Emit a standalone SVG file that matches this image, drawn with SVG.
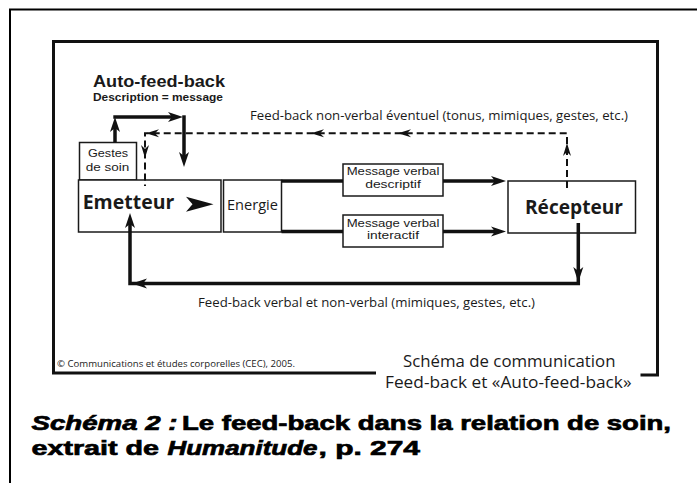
<svg xmlns="http://www.w3.org/2000/svg" xmlns:xlink="http://www.w3.org/1999/xlink" width="697" height="483" viewBox="0 0 697 483">
<style>
.f{font-family:"Open Sans","Liberation Sans",sans-serif;fill:#1a1a1a}
.l{font-family:"Liberation Sans",Arial,sans-serif;fill:#1a1a1a}
.b{font-weight:bold}
.box{fill:#fff;stroke:#1a1a1a;stroke-width:1.5}
.thick{fill:none;stroke:#111;stroke-width:3.5}
.dash{fill:none;stroke:#111;stroke-width:2;stroke-dasharray:7 4}
.cap{font-family:"Liberation Sans",Arial,sans-serif;font-weight:bold;font-size:21px;fill:#000;stroke:#000;stroke-width:0.7}
</style>
<defs>
<path id="ah" d="M0,0 L-15,-5 L-11,0 L-15,5 Z" fill="#111"/>
<path id="dh" d="M0,0 L-13,-4 L-9,0 L-13,4 Z" fill="#111"/>
</defs>
<rect width="697" height="483" fill="#fff"/>
<g id="page-border">
<path d="M10,483 V9.5 H697" fill="none" stroke="#000" stroke-width="2"/>
</g>
<g id="frame">
<path d="M376,373 H53.5 V41.5 H657.5 V375 H640.5" fill="none" stroke="#111" stroke-width="3"/>
</g>
<g id="title-auto">
<text class="l b" x="93" y="87" font-size="17" textLength="132" lengthAdjust="spacingAndGlyphs">Auto-feed-back</text>
<text class="l b" x="93" y="100.5" font-size="10.5" textLength="130" lengthAdjust="spacingAndGlyphs">Description = message</text>
</g>
<g id="gestes">
<rect class="box" x="79.5" y="142.5" width="57" height="37.5" stroke-width="1.2"/>
<text class="l" x="108" y="157.3" font-size="11.5" text-anchor="middle" textLength="40" lengthAdjust="spacingAndGlyphs">Gestes</text>
<text class="l" x="107.5" y="170.5" font-size="11.5" text-anchor="middle" textLength="43.5" lengthAdjust="spacingAndGlyphs">de soin</text>
</g>
<g id="emetteur">
<rect class="box" x="78.5" y="180" width="142.5" height="52"/>
<text class="f b" x="82.7" y="209" font-size="20" textLength="91.6" lengthAdjust="spacingAndGlyphs">Emetteur</text>
<path d="M186,196.7 L213.5,204.2 L186,211.7 L192.5,204.2 Z" fill="#111"/>
</g>
<g id="energie">
<rect class="box" x="223.5" y="180" width="58" height="52"/>
<text class="f" x="227" y="210" font-size="14" textLength="51" lengthAdjust="spacingAndGlyphs">Energie</text>
</g>
<g id="msg-descriptif">
<rect class="box" x="343" y="164" width="100" height="32" stroke-width="1.2"/>
<text class="l" x="393" y="175" font-size="11" text-anchor="middle" textLength="92.7" lengthAdjust="spacingAndGlyphs">Message verbal</text>
<text class="l" x="393" y="187.6" font-size="11" text-anchor="middle" textLength="55.7" lengthAdjust="spacingAndGlyphs">descriptif</text>
</g>
<g id="msg-interactif">
<rect class="box" x="343" y="215" width="100" height="32" stroke-width="1.2"/>
<text class="l" x="393" y="226.6" font-size="11" text-anchor="middle" textLength="92.7" lengthAdjust="spacingAndGlyphs">Message verbal</text>
<text class="l" x="393" y="239.3" font-size="11" text-anchor="middle" textLength="52" lengthAdjust="spacingAndGlyphs">interactif</text>
</g>
<g id="recepteur">
<rect class="box" x="508" y="181" width="127.5" height="52"/>
<text class="f b" x="574" y="213.5" font-size="20" text-anchor="middle" textLength="98" lengthAdjust="spacingAndGlyphs">Récepteur</text>
</g>
<g id="connectors">
<path class="thick" d="M115,142.5 V125"/>
<use xlink:href="#ah" transform="translate(115,117) rotate(-90)"/>
<path class="thick" d="M113.3,117 H176"/>
<use xlink:href="#ah" transform="translate(183,117)"/>
<path class="thick" d="M184,115.3 V160"/>
<use xlink:href="#ah" transform="translate(184,167) rotate(90)"/>
<path class="thick" d="M281.5,181 H343 M443,181 H498"/>
<use xlink:href="#ah" transform="translate(506,181)"/>
<path class="thick" d="M281.5,231.5 H343 M443,231.5 H498"/>
<use xlink:href="#ah" transform="translate(506,231.5)"/>
<path class="dash" d="M567,188 V133.3 H145 V186"/>
<use xlink:href="#dh" transform="translate(567,143) rotate(-90)"/>
<use xlink:href="#dh" transform="translate(398,133.3) rotate(180)"/>
<use xlink:href="#dh" transform="translate(311,133.3) rotate(180)"/>
<use xlink:href="#dh" transform="translate(146,133.3) rotate(180)"/>
<use xlink:href="#dh" transform="translate(145,158) rotate(90)"/>
<path class="thick" d="M578.3,223 V283.5 H130 V220"/>
<use xlink:href="#ah" transform="translate(578.3,282) rotate(90)"/>
<use xlink:href="#ah" transform="translate(132,283.5) rotate(180)"/>
<use xlink:href="#ah" transform="translate(130,213) rotate(-90)"/>
</g>
<g id="labels">
<text class="f" x="250" y="120" font-size="13" textLength="378" lengthAdjust="spacingAndGlyphs">Feed-back non-verbal éventuel (tonus, mimiques, gestes, etc.)</text>
<text class="f" x="198" y="306.5" font-size="13" textLength="337" lengthAdjust="spacingAndGlyphs">Feed-back verbal et non-verbal (mimiques, gestes, etc.)</text>
<text class="f" x="57" y="367" font-size="9" textLength="238" lengthAdjust="spacingAndGlyphs">© Communications et études corporelles (CEC), 2005.</text>
<text class="f" x="403" y="366.7" font-size="15.5" textLength="212.5" lengthAdjust="spacingAndGlyphs">Schéma de communication</text>
<text class="f" x="385" y="388" font-size="15.5" textLength="246.5" lengthAdjust="spacingAndGlyphs">Feed-back et «Auto-feed-back»</text>
</g>
<g id="caption">
<text class="cap"><tspan x="31.5" y="430" font-style="italic" textLength="146" lengthAdjust="spacingAndGlyphs">Schéma 2 :</tspan><tspan x="182" y="430" textLength="489" lengthAdjust="spacingAndGlyphs">Le feed-back dans la relation de soin,</tspan><tspan x="31.5" y="455" textLength="127.5" lengthAdjust="spacingAndGlyphs">extrait de</tspan><tspan x="167.5" y="455" font-style="italic" textLength="150" lengthAdjust="spacingAndGlyphs">Humanitude</tspan><tspan x="318.5" y="455" textLength="101.5" lengthAdjust="spacingAndGlyphs">, p. 274</tspan></text>
</g>
</svg>
